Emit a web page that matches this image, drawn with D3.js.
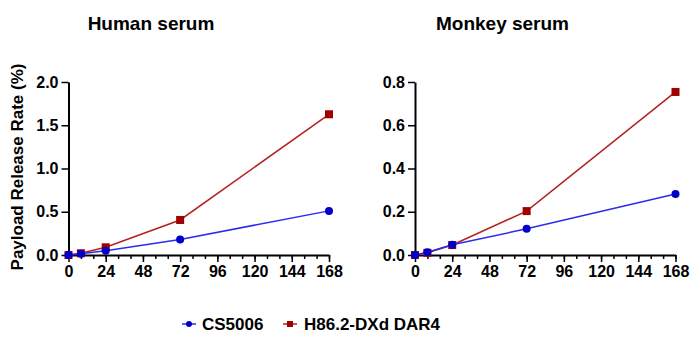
<!DOCTYPE html>
<html><head><meta charset="utf-8">
<script src="https://cdn.jsdelivr.net/npm/d3@7"></script>
<style>body{margin:0;background:#fff}svg{display:block;font-family:"Liberation Sans",Arial,sans-serif}</style>
</head><body>
<svg id="c" width="700" height="337"></svg>
<script>
const hours = [0, 8, 24, 72, 168];
const xTicks = [0, 24, 48, 72, 96, 120, 144, 168];
const seriesNames = ["CS5006", "H86.2-DXd DAR4"];
const humanCS5006 = [0, 0.015, 0.05, 0.18, 0.51];
const humanH86 = [0, 0.02, 0.089, 0.405, 1.627];
const monkeyCS5006 = [0, 0.013, 0.047, 0.121, 0.282];
const monkeyH86 = [0, 0.01, 0.046, 0.203, 0.754];
const humanYTicks = [0, 0.5, 1.0, 1.5, 2.0];
const monkeyYTicks = [0, 0.2, 0.4, 0.6, 0.8];
const titles = ["Human serum", "Monkey serum"];

const blueLine = "#2b2bf0", blueMark = "#0000c8";
const redLine = "#b52020", redMark = "#a00000";
const svg = d3.select("#c");

function panel(x0, x1, yTop, yBot, yMax, yTicks, cs, h86, title, titleX) {
  const x = d3.scaleLinear().domain([0, 168]).range([x0, x1]);
  const y = d3.scaleLinear().domain([0, yMax]).range([yBot, yTop]);
  const g = svg.append("g");
  const xa = g.append("g").attr("transform", `translate(0,${yBot})`)
    .call(d3.axisBottom(x).tickValues(d3.range(0, 169, 8)).tickSize(4).tickFormat(""));
  xa.selectAll("path").remove();
  xa.selectAll("line").attr("stroke", "#000").attr("stroke-width", 1.5);
  const xb = g.append("g").attr("transform", `translate(0,${yBot})`)
    .call(d3.axisBottom(x).tickValues(xTicks).tickSize(7).tickSizeOuter(0).tickPadding(4));
  xb.select("path").attr("stroke", "#000").attr("stroke-width", 2);
  xb.selectAll("line").attr("stroke", "#000").attr("stroke-width", 1.5);
  xb.selectAll("text").attr("font-size", 16).attr("font-weight", "bold").attr("fill", "#000");
  const ya = g.append("g").attr("transform", `translate(${x0},0)`)
    .call(d3.axisLeft(y).tickValues(yTicks).tickSize(7).tickSizeOuter(0).tickPadding(3).tickFormat(d3.format(".1f")));
  ya.select("path").attr("stroke", "#000").attr("stroke-width", 2);
  ya.selectAll("line").attr("stroke", "#000").attr("stroke-width", 1.5);
  ya.selectAll("text").attr("font-size", 16).attr("font-weight", "bold").attr("fill", "#000");

  const line = d3.line().x((d, i) => x(hours[i])).y(d => y(d));
  g.append("path").datum(h86).attr("d", line).attr("fill", "none").attr("stroke", redLine).attr("stroke-width", 1.5);
  g.append("path").datum(cs).attr("d", line).attr("fill", "none").attr("stroke", blueLine).attr("stroke-width", 1.5);
  g.selectAll(".sq").data(h86).enter().append("rect")
    .attr("x", (d, i) => x(hours[i]) - 4).attr("y", d => y(d) - 4)
    .attr("width", 8).attr("height", 8).attr("fill", redMark);
  g.selectAll(".ci").data(cs).enter().append("circle")
    .attr("cx", (d, i) => x(hours[i])).attr("cy", d => y(d)).attr("r", 4).attr("fill", blueMark);
  g.append("text").attr("x", titleX).attr("y", 30)
    .attr("text-anchor", "middle").attr("font-size", 19).attr("font-weight", "bold").text(title);
}

panel(68.5, 329, 82, 255, 2.0, humanYTicks, humanCS5006, humanH86, titles[0], 151);
panel(415, 675.5, 82, 255, 0.8, monkeyYTicks, monkeyCS5006, monkeyH86, titles[1], 502.5);

svg.append("text").attr("transform", "translate(23,167) rotate(-90)")
  .attr("text-anchor", "middle").attr("font-size", 17).attr("font-weight", "bold").text("Payload Release Rate (%)");

const leg = svg.append("g");
leg.append("line").attr("x1", 182).attr("x2", 196).attr("y1", 324).attr("y2", 324).attr("stroke", blueLine).attr("stroke-width", 1.5);
leg.append("circle").attr("cx", 189).attr("cy", 324).attr("r", 3).attr("fill", blueMark);
leg.append("text").attr("x", 202).attr("y", 330).attr("font-size", 17).attr("font-weight", "bold").text(seriesNames[0]);
leg.append("line").attr("x1", 283).attr("x2", 297).attr("y1", 324).attr("y2", 324).attr("stroke", redLine).attr("stroke-width", 1.5);
leg.append("rect").attr("x", 287).attr("y", 321).attr("width", 6).attr("height", 6).attr("fill", redMark);
leg.append("text").attr("x", 304).attr("y", 330).attr("font-size", 17).attr("font-weight", "bold").text(seriesNames[1]);
</script>
</body></html>
